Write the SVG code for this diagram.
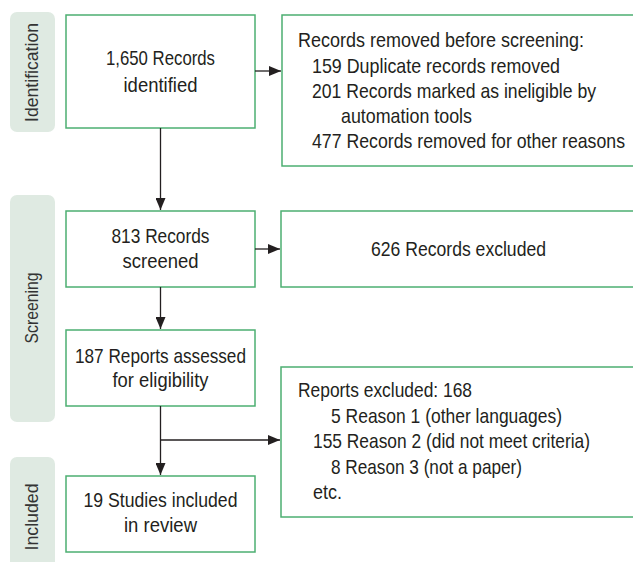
<svg xmlns="http://www.w3.org/2000/svg" width="633" height="562" viewBox="0 0 633 562">
<style>
.box{fill:#fff;stroke:#4caf72;stroke-width:1.5}
.lbl{fill:#dfeae2}
.t{font-family:"Liberation Sans",Arial,sans-serif;font-size:21px;fill:#231f20}
.c{text-anchor:middle}
.side{font-family:"Liberation Sans",Arial,sans-serif;font-size:18px;fill:#333;text-anchor:middle}
.ln{stroke:#231f20;stroke-width:1.3;fill:none}
</style>
<defs>
<marker id="ah" markerWidth="12" markerHeight="10" refX="12" refY="5" orient="auto" markerUnits="userSpaceOnUse">
<path d="M0,0 L12,5 L0,10 Z" fill="#231f20"/>
</marker>
</defs>
<g id="stage-identification">
<rect class="lbl" x="10" y="12" width="45" height="120" rx="7"/>
<text class="side" transform="translate(38,72.5) rotate(-90)" textLength="99" lengthAdjust="spacingAndGlyphs">Identification</text>
</g>
<g id="stage-screening">
<rect class="lbl" x="10" y="195" width="45" height="227" rx="7"/>
<text class="side" transform="translate(38,308) rotate(-90)" textLength="71" lengthAdjust="spacingAndGlyphs">Screening</text>
</g>
<g id="stage-included">
<rect class="lbl" x="10" y="457" width="45" height="115" rx="7"/>
<text class="side" transform="translate(38,517) rotate(-90)" textLength="67" lengthAdjust="spacingAndGlyphs">Included</text>
</g>
<g id="n1">
<rect class="box" x="66" y="15" width="189" height="113"/>
<text class="t c" x="160.5" y="65" textLength="109" lengthAdjust="spacingAndGlyphs">1,650 Records</text>
<text class="t c" x="160.5" y="92" textLength="74" lengthAdjust="spacingAndGlyphs">identified</text>
</g>
<g id="n2">
<rect class="box" x="282" y="15" width="360" height="151"/>
<text class="t" x="298" y="47" textLength="286" lengthAdjust="spacingAndGlyphs">Records removed before screening:</text>
<text class="t" x="312" y="73" textLength="248" lengthAdjust="spacingAndGlyphs">159 Duplicate records removed</text>
<text class="t" x="312" y="98" textLength="284" lengthAdjust="spacingAndGlyphs">201 Records marked as ineligible by</text>
<text class="t" x="341" y="123" textLength="131" lengthAdjust="spacingAndGlyphs">automation tools</text>
<text class="t" x="312" y="148" textLength="313" lengthAdjust="spacingAndGlyphs">477 Records removed for other reasons</text>
</g>
<g id="n3">
<rect class="box" x="66" y="211" width="189" height="76"/>
<text class="t c" x="160.5" y="243" textLength="98" lengthAdjust="spacingAndGlyphs">813 Records</text>
<text class="t c" x="160.5" y="268" textLength="76" lengthAdjust="spacingAndGlyphs">screened</text>
</g>
<g id="n4">
<rect class="box" x="281" y="211" width="360" height="76"/>
<text class="t c" x="458.5" y="256" textLength="175" lengthAdjust="spacingAndGlyphs">626 Records excluded</text>
</g>
<g id="n5">
<rect class="box" x="66" y="330" width="189" height="76"/>
<text class="t c" x="160.5" y="363" textLength="171" lengthAdjust="spacingAndGlyphs">187 Reports assessed</text>
<text class="t c" x="160.5" y="387" textLength="96" lengthAdjust="spacingAndGlyphs">for eligibility</text>
</g>
<g id="n6">
<rect class="box" x="281" y="367" width="360" height="150"/>
<text class="t" x="298" y="397" textLength="174" lengthAdjust="spacingAndGlyphs">Reports excluded: 168</text>
<text class="t" x="331" y="423" textLength="231" lengthAdjust="spacingAndGlyphs">5 Reason 1 (other languages)</text>
<text class="t" x="313" y="448" textLength="277" lengthAdjust="spacingAndGlyphs">155 Reason 2 (did not meet criteria)</text>
<text class="t" x="331" y="474" textLength="191" lengthAdjust="spacingAndGlyphs">8 Reason 3 (not a paper)</text>
<text class="t" x="313" y="499" textLength="29" lengthAdjust="spacingAndGlyphs">etc.</text>
</g>
<g id="n7">
<rect class="box" x="66" y="476" width="189" height="76"/>
<text class="t c" x="160.5" y="507" textLength="154" lengthAdjust="spacingAndGlyphs">19 Studies included</text>
<text class="t c" x="160.5" y="532" textLength="73" lengthAdjust="spacingAndGlyphs">in review</text>
</g>
<g id="connectors">
<line class="ln" x1="255" y1="71" x2="281" y2="71" marker-end="url(#ah)"/>
<line class="ln" x1="160.5" y1="128" x2="160.5" y2="210" marker-end="url(#ah)"/>
<line class="ln" x1="255" y1="249" x2="280" y2="249" marker-end="url(#ah)"/>
<line class="ln" x1="160.5" y1="287" x2="160.5" y2="329" marker-end="url(#ah)"/>
<line class="ln" x1="160.5" y1="406" x2="160.5" y2="475" marker-end="url(#ah)"/>
<line class="ln" x1="160.5" y1="440" x2="280" y2="440" marker-end="url(#ah)"/>
</g>
</svg>
